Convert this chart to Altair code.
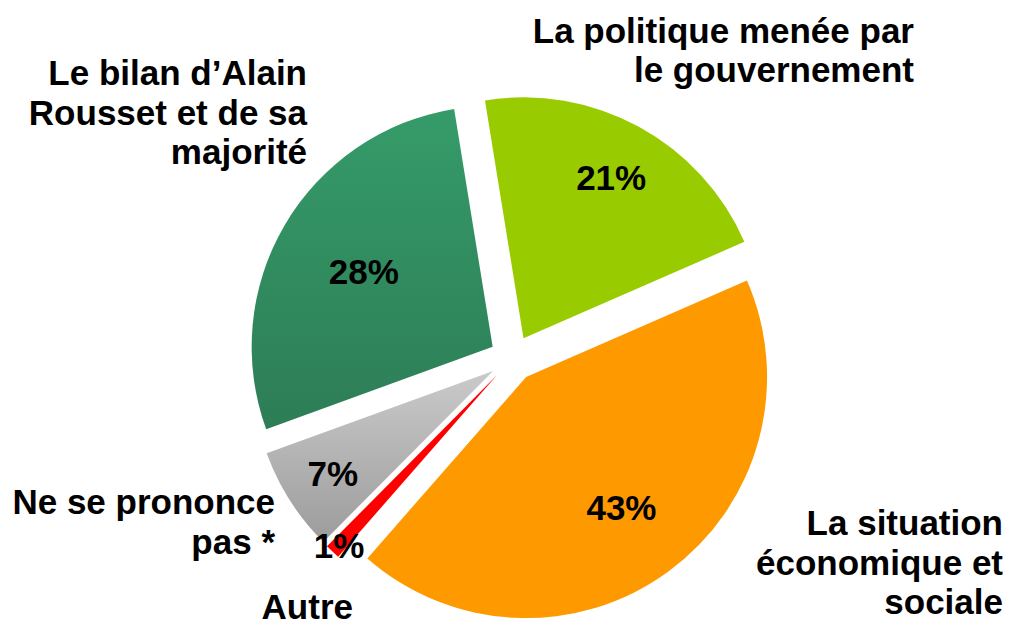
import altair as alt
import pandas as pd

# ---------------- data ----------------
categories = [
    "La politique menée par le gouvernement",
    "La situation économique et sociale",
    "Autre",
    "Ne se prononce pas *",
    "Le bilan d’Alain Rousset et de sa majorité",
]
values = [21, 43, 1, 7, 28]
pct_labels = ["21%", "43%", "1%", "7%", "28%"]
outer_labels = [
    "La politique menée par\nle gouvernement",
    "La situation\néconomique et\nsociale",
    "Autre",
    "Ne se prononce\npas *",
    "Le bilan d’Alain\nRousset et de sa\nmajorité",
]

# ---------------- layout / style ----------------
W, H = 995, 617
CX, CY = 504.5, 350.5      # pie centre (px)
R = 241                     # radius (px)
EXPLODE = 23                # explosion distance (px)
START_DEG = -9.2            # start angle of first slice (clockwise from 12 o'clock)
FONT = "Liberation Sans"

label_radius = [0.76, 0.67, 0.96, 0.79, 0.62]   # % label position as fraction of radius
outer_x = [906, 995, 345, 267, 299]             # right edge of outer label
outer_y = [34.7, 527, 611, 506, 77]             # first baseline of outer label

fills = [
    "#99CC00",
    "#FF9900",
    "#FF0000",
    alt.LinearGradient(gradient="linear", x1=0, x2=0, y1=0, y2=1,
                       stops=[alt.GradientStop(offset=0, color="#CACACA"),
                              alt.GradientStop(offset=1, color="#9C9C9C")]),
    alt.LinearGradient(gradient="linear", x1=0, x2=0, y1=0, y2=1,
                       stops=[alt.GradientStop(offset=0, color="#359B69"),
                              alt.GradientStop(offset=1, color="#2D7D56")]),
]

df = pd.DataFrame({
    "order": list(range(len(categories))),
    "cat": categories,
    "value": values,
    "pct": pct_labels,
    "outer": outer_labels,
    "lr": label_radius,
    "ox": outer_x,
    "oy": outer_y,
})

base = (
    alt.Chart(df)
    .transform_joinaggregate(total="sum(value)")
    .transform_window(cum="sum(value)", sort=[alt.SortField("order")], frame=[None, 0])
    .transform_calculate(
        t1=f"{START_DEG}*PI/180 + 2*PI*datum.cum/datum.total",
    )
    .transform_calculate(
        t0="datum.t1 - 2*PI*datum.value/datum.total",
    )
    .transform_calculate(mid="(datum.t0 + datum.t1)/2")
    .transform_calculate(
        cx=f"{CX} + {EXPLODE}*sin(datum.mid)",
        cy=f"{CY} - {EXPLODE}*cos(datum.mid)",
    )
    .transform_calculate(
        lx=f"datum.cx + {R}*datum.lr*sin(datum.mid)",
        ly=f"datum.cy - {R}*datum.lr*cos(datum.mid)",
    )
)

layers = []
for cat, fill in zip(categories, fills):
    layers.append(
        base.transform_filter(alt.datum.cat == cat)
        .mark_arc(radius=R, fill=fill, strokeWidth=0)
        .encode(
            x=alt.X("cx:Q", scale=None),
            y=alt.Y("cy:Q", scale=None),
            theta=alt.Theta("t0:Q", scale=None),
            theta2=alt.Theta2("t1:Q"),
        )
    )

pct_text = base.mark_text(
    font=FONT, fontWeight="bold", fontSize=35, color="black",
    align="center", baseline="middle", dy=2,
).encode(
    x=alt.X("lx:Q", scale=None),
    y=alt.Y("ly:Q", scale=None),
    text="pct:N",
)

outer_text = base.mark_text(
    font=FONT, fontWeight="bold", fontSize=35, color="black",
    align="right", baseline="alphabetic", lineBreak="\n", lineHeight=39.5,
).encode(
    x=alt.X("ox:Q", scale=None),
    y=alt.Y("oy:Q", scale=None),
    text="outer:N",
)

chart = (
    alt.layer(*layers, pct_text, outer_text)
    .properties(width=W, height=H, autosize=alt.AutoSizeParams(type="none"), padding=0)
    .configure_view(stroke=None)
)

chart.save("out.html", embed_options={"renderer": "svg", "actions": False})
